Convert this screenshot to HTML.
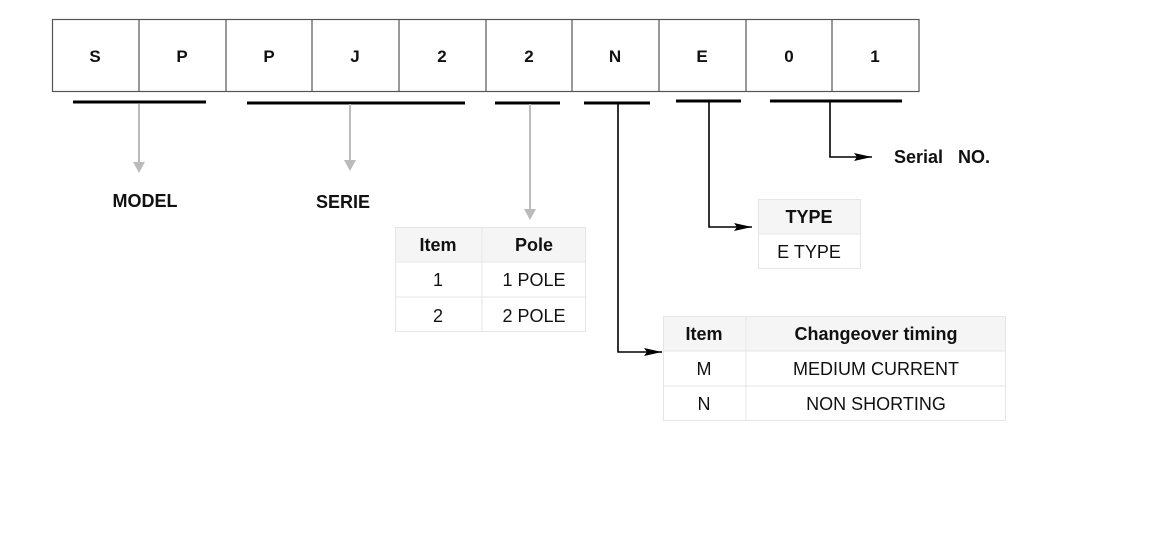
<!DOCTYPE html>
<html><head><meta charset="utf-8"><style>
html,body{margin:0;padding:0;background:#fff;}
svg{display:block;font-family:"Liberation Sans",Arial,sans-serif;}
</style></head><body>
<svg width="1150" height="534" viewBox="0 0 1150 534" xmlns="http://www.w3.org/2000/svg">
<defs>
<marker id="ab" markerWidth="18" markerHeight="8" refX="18" refY="4" orient="auto" markerUnits="userSpaceOnUse"><path d="M0,0 L18,4 L0,8 L3,4 Z" fill="#000"/></marker>
</defs>
<g fill="none" stroke="#555" stroke-width="1.2">
<rect x="52.5" y="19.5" width="866.5" height="72"/>
<line x1="139" y1="19.5" x2="139" y2="91.5"/><line x1="226" y1="19.5" x2="226" y2="91.5"/>
<line x1="312" y1="19.5" x2="312" y2="91.5"/><line x1="399" y1="19.5" x2="399" y2="91.5"/>
<line x1="486" y1="19.5" x2="486" y2="91.5"/><line x1="572" y1="19.5" x2="572" y2="91.5"/>
<line x1="659" y1="19.5" x2="659" y2="91.5"/><line x1="746" y1="19.5" x2="746" y2="91.5"/>
<line x1="832" y1="19.5" x2="832" y2="91.5"/>
</g>
<g font-weight="bold" font-size="17" text-anchor="middle" fill="#111">
<text x="95" y="62">S</text><text x="182" y="62">P</text><text x="269" y="62">P</text>
<text x="355" y="62">J</text><text x="442" y="62">2</text><text x="529" y="62">2</text>
<text x="615" y="62">N</text><text x="702" y="62">E</text><text x="789" y="62">0</text>
<text x="875" y="62">1</text>
</g>
<g stroke="#000" stroke-width="3">
<line x1="73" y1="102" x2="206" y2="102"/><line x1="247" y1="103" x2="465" y2="103"/>
<line x1="495" y1="103" x2="560" y2="103"/><line x1="584" y1="103" x2="650" y2="103"/>
<line x1="676" y1="101" x2="741" y2="101"/><line x1="770" y1="101" x2="902" y2="101"/>
</g>
<g stroke="#bbb" stroke-width="2" fill="#bbb">
<line x1="139" y1="104" x2="139" y2="162"/><path d="M133,162 L145,162 L139,173 Z" stroke="none"/>
<line x1="350" y1="104" x2="350" y2="160"/><path d="M344,160 L356,160 L350,171 Z" stroke="none"/>
<line x1="530" y1="104" x2="530" y2="209"/><path d="M524,209 L536,209 L530,220 Z" stroke="none"/>
</g>
<g stroke="#000" stroke-width="1.6" fill="none">
<polyline points="618,104 618,352 662,352" marker-end="url(#ab)"/>
<polyline points="709,102 709,227 752,227" marker-end="url(#ab)"/>
<polyline points="830,102 830,157 872,157" marker-end="url(#ab)"/>
</g>
<g font-weight="bold" font-size="18" fill="#111">
<text x="145" y="207" text-anchor="middle">MODEL</text>
<text x="343" y="208" text-anchor="middle">SERIE</text>
<text x="894" y="163">Serial&#160;&#160;&#160;NO.</text>
</g>
<!-- Pole table -->
<rect x="395" y="227" width="191" height="35" fill="#f5f5f5"/>
<g stroke="#e6e6e6" stroke-width="1" fill="none">
<rect x="395.5" y="227.5" width="190" height="104"/>
<line x1="482" y1="227" x2="482" y2="332"/><line x1="395" y1="262" x2="586" y2="262"/><line x1="395" y1="297" x2="586" y2="297"/>
</g>
<g font-size="18" text-anchor="middle" fill="#111">
<text x="438" y="251" font-weight="bold">Item</text><text x="534" y="251" font-weight="bold">Pole</text>
<text x="438" y="286">1</text><text x="534" y="286">1 POLE</text>
<text x="438" y="322">2</text><text x="534" y="322">2 POLE</text>
</g>
<!-- TYPE table -->
<rect x="758" y="199" width="103" height="35" fill="#f5f5f5"/>
<g stroke="#e6e6e6" fill="none"><rect x="758.5" y="199.5" width="102" height="69"/><line x1="758" y1="234" x2="861" y2="234"/></g>
<g font-size="18" text-anchor="middle" fill="#111">
<text x="809" y="223" font-weight="bold">TYPE</text><text x="809" y="258">E TYPE</text>
</g>
<!-- Changeover table -->
<rect x="663" y="316" width="343" height="35" fill="#f5f5f5"/>
<g stroke="#e6e6e6" fill="none"><rect x="663.5" y="316.5" width="342" height="104"/>
<line x1="746" y1="316" x2="746" y2="421"/><line x1="663" y1="351" x2="1006" y2="351"/><line x1="663" y1="386" x2="1006" y2="386"/></g>
<g font-size="18" text-anchor="middle" fill="#111">
<text x="704" y="340" font-weight="bold">Item</text><text x="876" y="340" font-weight="bold">Changeover timing</text>
<text x="704" y="375">M</text><text x="876" y="375">MEDIUM CURRENT</text>
<text x="704" y="410">N</text><text x="876" y="410">NON SHORTING</text>
</g>
</svg>
</body></html>
